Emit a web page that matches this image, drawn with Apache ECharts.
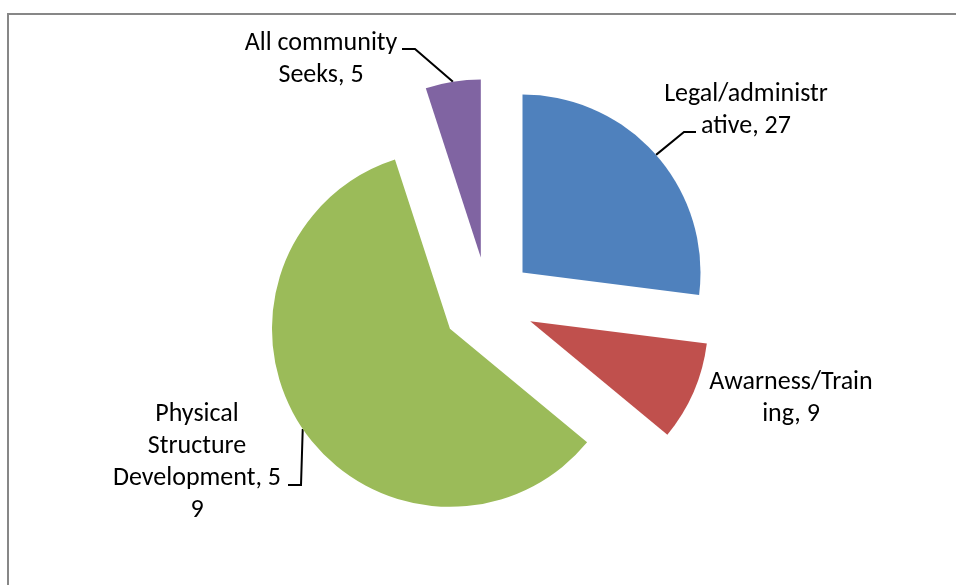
<!DOCTYPE html>
<html>
<head>
<meta charset="utf-8">
<script src="https://cdn.jsdelivr.net/npm/echarts@6/dist/echarts.min.js"></script>
<style>
  html, body { margin: 0; padding: 0; background: #ffffff; }
  #chart { width: 956px; height: 585px; }
</style>
</head>
<body>
<div id="chart"></div>
<script>
// Slices, clockwise from 12 o'clock
const categories = ['Legal/administrative', 'Awarness/Training', 'Physical Structure Development', 'All community Seeks'];
const values = [27, 9, 59, 5];
const sliceColors = ['#4F81BD', '#C0504D', '#9BBB59', '#8064A2'];
// character positions in "name, value" where each label wraps to a new line
const labelBreaks = [[15], [14], [8, 18, 33], [13]];

const CX = 488, CY = 303, RADIUS = 178, EXPLODE = 46;

// label block centres and the leader-line bend/end points next to them
const labelSpots = [
  { x: 746, y: 110, leader: [[684, 132], [696, 132]] },
  { x: 791, y: 398, leader: null },
  { x: 197, y: 462, leader: [[301, 485], [288, 485]] },
  { x: 321, y: 59, leader: [[415, 49], [402, 49]] }
];

function wrapLabel(text, breaks) {
  const lines = [];
  let start = 0;
  breaks.forEach(function (b) { lines.push(text.slice(start, b).trim()); start = b; });
  lines.push(text.slice(start).trim());
  return lines.join('\n');
}

const total = values.reduce(function (a, b) { return a + b; }, 0);
// mid angle of each slice, radians clockwise from 12 o'clock
const midAngles = [];
(function () {
  let acc = 0;
  values.forEach(function (v) {
    midAngles.push((acc + v / 2) / total * Math.PI * 2);
    acc += v;
  });
})();

const chart = echarts.init(document.getElementById('chart'), null, { renderer: 'canvas' });

// One pie per slice: every pie lays out the full data, shows only its own
// slice, and is pushed outward along that slice's bisector (exploded pie).
const pieSeries = categories.map(function (_, k) {
  const cx = CX + EXPLODE * Math.sin(midAngles[k]);
  const cy = CY - EXPLODE * Math.cos(midAngles[k]);
  return {
    type: 'pie',
    name: categories[k],
    center: [cx, cy],
    radius: RADIUS,
    startAngle: 90,
    clockwise: true,
    silent: true,
    avoidLabelOverlap: false,
    itemStyle: { borderWidth: 0 },
    label: {
      color: '#000000',
      fontFamily: 'Carlito, Calibri, Lato, sans-serif',
      fontSize: 26,
      lineHeight: 32,
      align: 'center',
      formatter: function (p) {
        return wrapLabel(p.name + ', ' + p.value, labelBreaks[p.dataIndex]);
      }
    },
    labelLine: { lineStyle: { color: '#000000', width: 2 } },
    labelLayout: function (params) {
      const i = params.dataIndex;
      const spot = labelSpots[i];
      const out = { x: spot.x, y: spot.y, align: 'center', verticalAlign: 'middle' };
      if (spot.leader) {
        const r = RADIUS + EXPLODE;
        const edge = [CX + r * Math.sin(midAngles[i]), CY - r * Math.cos(midAngles[i])];
        out.labelLinePoints = [edge].concat(spot.leader);
      }
      return out;
    },
    data: categories.map(function (name, i) {
      const own = i === k;
      return {
        name: name,
        value: values[i],
        itemStyle: { color: own ? sliceColors[i] : 'rgba(0,0,0,0)' },
        label: { show: own },
        labelLine: { show: own && !!labelSpots[i].leader }
      };
    })
  };
});

chart.setOption({
  animation: false,
  backgroundColor: '#ffffff',
  graphic: [{
    type: 'rect',
    shape: { x: 8, y: 14, width: 1000, height: 1000 },
    style: { fill: 'none', stroke: '#878787', lineWidth: 2 },
    silent: true,
    z: 0
  }],
  series: pieSeries
});
</script>
</body>
</html>
